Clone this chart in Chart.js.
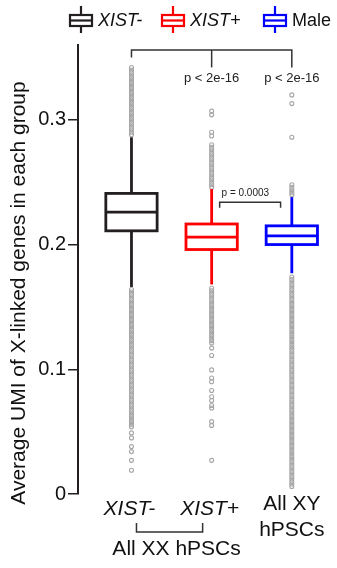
<!DOCTYPE html><html lang="en"><head><meta charset="UTF-8">
<title>X-linked UMI</title>
<script src="https://cdn.jsdelivr.net/npm/chart.js"></script>
<style>
    body { margin: 0; background: #fff; }
    #wrap { width: 337px; height: 568px; position: relative; }
</style>
</head>
<body>
<div id="wrap"><canvas id="c"></canvas></div>
<script>
// groups and box stats
const groups = ['XIST-', 'XIST+', 'Male'];
const colors = ['#231f20', '#ff0000', '#0000ff'];
const whiskerLow = [0.166, 0.168, 0.177];
const q1 = [0.211, 0.196, 0.200];
const median = [0.226, 0.206, 0.207];
const q3 = [0.241, 0.2165, 0.215];
const whiskerHigh = [0.286, 0.2445, 0.238];
const yTicks = [0, 0.1, 0.2, 0.3];

// outliers (grey circles)
const outXistNeg = [0.288,0.290,0.292,0.294,0.296,0.298,0.300,0.302,0.304,0.306,0.308,0.310,0.312,0.314,0.316,0.318,0.320,0.322,0.324,0.326,0.328,0.330,0.332,0.334,0.336,0.338,0.340,0.342,
    0.054,0.056,0.058,0.060,0.062,0.064,0.066,0.068,0.070,0.072,0.074,0.076,0.078,0.080,0.082,0.084,0.086,0.088,0.090,0.092,0.094,0.096,0.098,0.100,0.102,0.104,0.106,0.108,0.110,0.112,0.114,0.116,0.118,0.120,0.122,0.124,0.126,0.128,0.130,0.132,0.134,0.136,0.138,0.140,0.142,0.144,0.146,0.148,0.150,0.152,0.154,0.156,0.158,0.160,0.162,0.164,
    0.049,0.045,0.038,0.034,0.027,0.019];
const outXistPos = [0.246,0.248,0.250,0.252,0.254,0.256,0.258,0.260,0.262,0.264,0.266,0.268,0.270,0.272,0.274,0.276,0.278,0.280,0.287,0.290,0.304,0.307,
    0.121,0.123,0.125,0.127,0.129,0.131,0.133,0.135,0.137,0.139,0.141,0.143,0.145,0.147,0.149,0.151,0.153,0.155,0.157,0.159,0.161,0.163,0.165,
    0.117,0.111,0.0995,0.093,0.090,0.083,0.078,0.075,0.071,0.069,0.058,0.055,0.027];
const outMale = [0.240,0.242,0.244,0.246,0.248,0.286,0.313,0.320,
    0.006,0.008,0.010,0.012,0.014,0.016,0.018,0.020,0.022,0.024,0.026,0.028,0.030,0.032,0.034,0.036,0.038,0.040,0.042,0.044,0.046,0.048,0.050,0.052,0.054,0.056,0.058,0.060,0.062,0.064,0.066,0.068,0.070,0.072,0.074,0.076,0.078,0.080,0.082,0.084,0.086,0.088,0.090,0.092,0.094,0.096,0.098,0.100,0.102,0.104,0.106,0.108,0.110,0.112,0.114,0.116,0.118,0.120,0.122,0.124,0.126,0.128,0.130,0.132,0.134,0.136,0.138,0.140,0.142,0.144,0.146,0.148,0.150,0.152,0.154,0.156,0.158,0.160,0.162,0.164,0.166,0.168,0.170,0.172,0.174];
const outliers = [outXistNeg, outXistPos, outMale];

// p-value labels
const pTop = ['p < 2e-16', 'p < 2e-16'];
const pPair = 'p = 0.0003';

const BOXW = 0.32;
const fam = 'Arial, "Liberation Sans", sans-serif';

function line(ctx, pts) {
    ctx.beginPath();
    ctx.moveTo(pts[0][0], pts[0][1]);
    for (let k = 1; k < pts.length; k++) ctx.lineTo(pts[k][0], pts[k][1]);
    ctx.stroke();
}

const boxPlugin = {
    id: 'boxes',
    afterDatasetsDraw(chart) {
        const ctx = chart.ctx, x = chart.scales.x, y = chart.scales.y;
        ctx.save();
        ctx.lineWidth = 2.8;
        groups.forEach((g, i) => {
            const cx = x.getPixelForValue(i + 1);
            const l = x.getPixelForValue(i + 1 - BOXW), r = x.getPixelForValue(i + 1 + BOXW);
            ctx.strokeStyle = colors[i];
            line(ctx, [[cx, y.getPixelForValue(whiskerLow[i])], [cx, y.getPixelForValue(q1[i])]]);
            line(ctx, [[cx, y.getPixelForValue(q3[i])], [cx, y.getPixelForValue(whiskerHigh[i])]]);
            const top = y.getPixelForValue(q3[i]), bot = y.getPixelForValue(q1[i]);
            ctx.fillStyle = '#fff';
            ctx.fillRect(l, top, r - l, bot - top);
            ctx.strokeRect(l, top, r - l, bot - top);
            line(ctx, [[l, y.getPixelForValue(median[i])], [r, y.getPixelForValue(median[i])]]);
        });

        // significance brackets
        ctx.strokeStyle = '#333';
        ctx.lineWidth = 1.5;
        const x1 = x.getPixelForValue(1), x2 = x.getPixelForValue(2), x3 = x.getPixelForValue(3);
        const yb = y.getPixelForValue(0.356);
        line(ctx, [[x1, y.getPixelForValue(0.350)], [x1, yb], [x3, yb], [x3, y.getPixelForValue(0.342)]]);
        line(ctx, [[x2, yb], [x2, y.getPixelForValue(0.342)]]);
        const ys = y.getPixelForValue(0.234);
        line(ctx, [[x.getPixelForValue(2.10), y.getPixelForValue(0.2295)], [x.getPixelForValue(2.10), ys],
                   [x.getPixelForValue(2.86), ys], [x.getPixelForValue(2.86), y.getPixelForValue(0.2295)]]);
        ctx.fillStyle = '#222';
        ctx.textAlign = 'center';
        ctx.textBaseline = 'middle';
        ctx.font = '13px ' + fam;
        ctx.fillText(pTop[0], x2, y.getPixelForValue(0.333));
        ctx.fillText(pTop[1], x3, y.getPixelForValue(0.333));
        ctx.font = '10px ' + fam;
        ctx.fillText(pPair, x.getPixelForValue(2.42), y.getPixelForValue(0.2415));

        // x labels
        const b = chart.chartArea.bottom;
        ctx.fillStyle = '#111';
        ctx.font = 'italic 21px ' + fam;
        ctx.fillText('XIST-', x1 - 2, b + 15);
        ctx.fillText('XIST+', x2 - 2, b + 15);
        ctx.font = '21px ' + fam;
        ctx.fillText('All XY', x3, b + 10);
        ctx.fillText('hPSCs', x3, b + 36);
        ctx.fillText('All XX hPSCs', (x1 + x2) / 2 + 5, b + 55);
        ctx.strokeStyle = '#333';
        ctx.lineWidth = 1.5;
        line(ctx, [[x1 + 5, b + 29], [x1 + 5, b + 38], [x2 - 9, b + 38], [x2 - 9, b + 29]]);

        // y axis title
        ctx.save();
        ctx.translate(19, 293);
        ctx.rotate(-Math.PI / 2);
        ctx.font = '21px ' + fam;
        ctx.fillText('Average UMI of X-linked genes in each group', 0, 0);
        ctx.restore();

        // legend
        const lx = [70, 162, 264];
        ctx.textAlign = 'left';
        groups.forEach((g, i) => {
            ctx.strokeStyle = colors[i];
            ctx.lineWidth = 2.2;
            line(ctx, [[lx[i] + 11, 6], [lx[i] + 11, 33]]);
            ctx.fillStyle = '#fff';
            ctx.fillRect(lx[i], 15, 22, 11);
            ctx.strokeRect(lx[i], 15, 22, 11);
            line(ctx, [[lx[i], 20.5], [lx[i] + 22, 20.5]]);
            ctx.fillStyle = '#111';
            ctx.font = (i < 2 ? 'italic ' : '') + '18px ' + fam;
            ctx.fillText(g, lx[i] + 28, 21);
        });
        ctx.restore();
    }
};

new Chart(document.getElementById('c'), {
    type: 'scatter',
    data: {
        datasets: outliers.map((vals, i) => ({
            data: vals.map(v => ({x: i + 1, y: v})),
            pointStyle: 'circle',
            pointRadius: 2,
            borderWidth: 1.1,
            borderColor: '#a6a6a6',
            backgroundColor: 'rgba(0,0,0,0)'
        }))
    },
    options: {
        responsive: true,
        maintainAspectRatio: false,
        animation: false,
        layout: { padding: { top: 45, bottom: 74, left: 0, right: 2.5 } },
        plugins: { legend: { display: false }, tooltip: { enabled: false } },
        scales: {
            x: { type: 'linear', min: 0.333, max: 3.5, display: false },
            y: {
                min: 0, max: 0.36,
                afterFit: s => { s.width = 78; },
                afterBuildTicks: s => { s.ticks = yTicks.map(v => ({value: v})); },
                border: { display: true, color: '#231f20', width: 2 },
                grid: { display: true, drawOnChartArea: false, drawTicks: true, tickLength: 10, tickColor: '#231f20', lineWidth: 1.5 },
                ticks: {
                    padding: 2,
                    color: '#111',
                    font: { family: fam, size: 20 },
                    callback: v => v === 0 ? '0' : v.toFixed(1)
                }
            }
        }
    },
    plugins: [boxPlugin]
});
</script>
</body>
</html>
